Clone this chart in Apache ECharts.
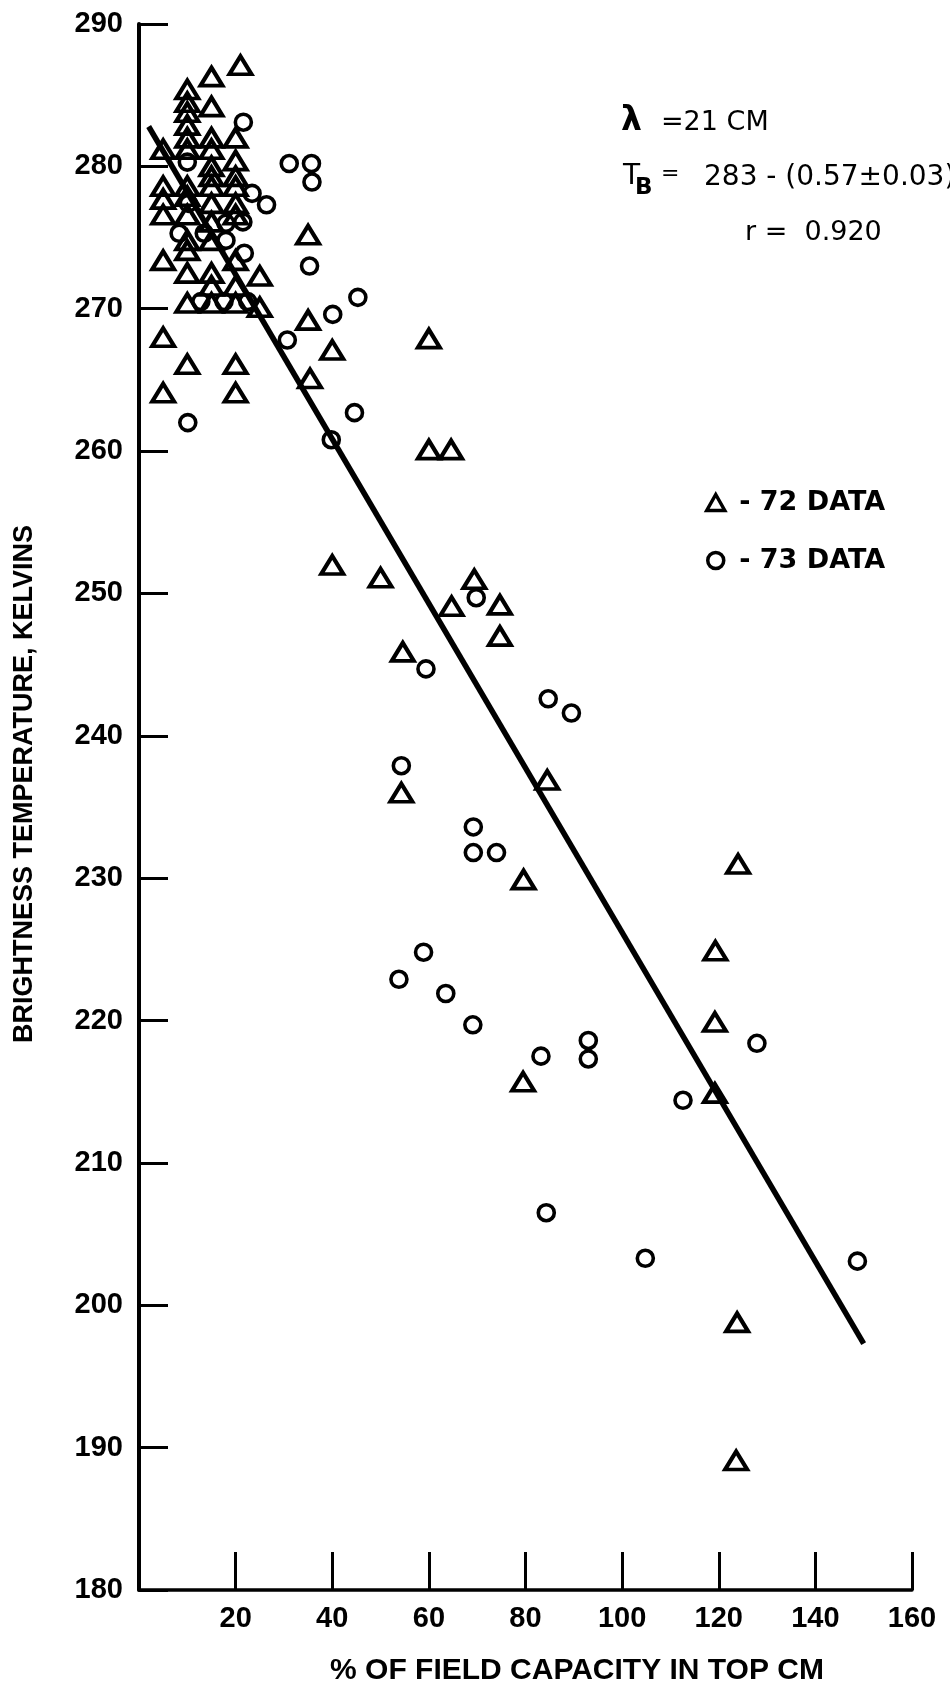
<!DOCTYPE html>
<html>
<head>
<meta charset="utf-8">
<script src="https://cdn.jsdelivr.net/npm/echarts@6/dist/echarts.min.js"></script>
<style>
html,body{margin:0;padding:0;background:#fff;}
#chart{width:950px;height:1690px;}
</style>
</head>
<body>
<div id="chart"></div>
<script>
// ---- data ----
const xTickValues = [20, 40, 60, 80, 100, 120, 140, 160];
const yTickValues = [180, 190, 200, 210, 220, 230, 240, 250, 260, 270, 280, 290];

// Triangles: 1972 data  [% field capacity, brightness temperature K]
const data72 = [
  [5,281.2],[5,278.6],[5,277.7],[5,276.6],[5,273.4],[5,268.0],[5,264.1],
  [10,285.4],[10,284.5],[10,283.8],[10,282.9],[10,282.0],[10,281.2],[10,278.6],[10,277.9],
  [10,276.6],[10,274.8],[10,274.1],[10,272.5],[10,270.4],[10,266.1],
  [15,286.3],[15,284.2],[15,282.0],[15,281.2],[15,280.0],[15,279.3],[15,278.6],[15,277.4],
  [15,276.1],[15,274.8],[15,272.5],[15,271.6],[15,270.4],
  [21,287.1],[20,282.0],[20,280.4],[20,279.3],[20,278.6],[20,277.4],[20,276.6],[20,273.4],
  [20,271.6],[20,270.4],[20,266.1],[20,264.1],
  [25,272.3],[25,270.1],
  [35,275.2],[35,269.2],[40,267.1],[35.4,265.1],[40,252.0],[50,251.1],
  [60,267.9],[60,260.1],[64.6,260.1],[69.4,251.0],[64.7,249.1],[74.7,249.2],[74.7,247.0],
  [54.6,245.9],[54.3,236.0],[84.5,236.9],[79.6,229.9],[79.5,215.7],
  [119.3,224.9],[119.2,219.9],[119.2,214.9],[124,231.0],[123.8,198.8],[123.6,189.1]
];

// Circles: 1973 data
const data73 = [
  [21.6,283.1],[10,280.3],[31.1,280.2],[35.7,280.2],[35.8,278.9],[23.4,278.1],[26.4,277.3],
  [10.2,277.4],[8.3,275.3],[13.5,275.3],[18,276.0],[21.5,276.1],[18,274.8],[21.8,273.9],
  [35.3,273.0],[12.8,270.5],[17.6,270.5],[22.5,270.5],[30.7,267.8],[40.1,269.6],[45.3,270.8],
  [10.1,262.0],[44.6,262.7],[39.8,260.8],[69.8,249.7],[59.4,244.7],[84.7,242.6],[89.5,241.6],
  [54.3,237.9],[69.2,233.6],[69.2,231.8],[74,231.8],[58.9,224.8],[53.8,222.9],[63.5,221.9],
  [69.1,219.7],[83.2,217.5],[93,218.6],[93,217.3],[127.9,218.4],[112.6,214.4],[84.3,206.5],
  [104.8,203.3],[148.7,203.1]
];

// Regression line end points: T_B = 283 - 0.57 x
const fitLine = [[2,282.8],[150,197.3]];

const seriesNames = ['72', '73'];

// ---- chart ----
const chart = echarts.init(document.getElementById('chart'), null, {renderer: 'canvas'});
const labelFont = {color: '#000', fontFamily: '"Liberation Sans", Arial, sans-serif', fontWeight: 'bold', fontSize: 29};
const markerStyle = {color: 'rgba(0,0,0,0)', borderColor: '#000', opacity: 1};

chart.setOption({
  animation: false,
  backgroundColor: '#ffffff',
  textStyle: {fontFamily: '"Liberation Sans", Arial, sans-serif', color: '#000'},
  grid: {left: 139, top: 24, right: 38, bottom: 100, containLabel: false},
  xAxis: {
    type: 'value', min: 0, max: 160, interval: 20,
    axisLine: {show: true, onZero: false, lineStyle: {color: '#000', width: 3.5}},
    axisTick: {show: true, inside: true, length: 38, lineStyle: {color: '#000', width: 3}},
    axisLabel: Object.assign({margin: 14, formatter: v => xTickValues.includes(v) ? String(v) : ''}, labelFont),
    splitLine: {show: false}
  },
  yAxis: {
    type: 'value', min: 180, max: 290, interval: 10,
    axisLine: {show: true, onZero: false, lineStyle: {color: '#000', width: 4}},
    axisTick: {show: true, inside: true, length: 29, lineStyle: {color: '#000', width: 3}},
    axisLabel: Object.assign({margin: 16, formatter: v => yTickValues.includes(v) ? String(v) : ''}, labelFont),
    splitLine: {show: false}
  },
  legend: {
    orient: 'vertical', left: 700, top: 484, itemGap: 31,
    itemWidth: 18, itemHeight: 16,
    formatter: name => ' - ' + name + ' DATA',
    textStyle: {fontFamily: '"DejaVu Sans", sans-serif', fontWeight: 'bold', fontSize: 27, color: '#000'},
    data: [
      {name: seriesNames[0], icon: 'triangle', itemStyle: {color: 'rgba(0,0,0,0)', borderColor: '#000', borderWidth: 3.5, opacity: 1}},
      {name: seriesNames[1], icon: 'circle', itemStyle: {color: 'rgba(0,0,0,0)', borderColor: '#000', borderWidth: 3.5, opacity: 1}}
    ]
  },
  series: [
    {
      name: seriesNames[0], type: 'scatter', data: data72,
      symbol: 'triangle', symbolSize: [22, 18],
      itemStyle: Object.assign({borderWidth: 4}, markerStyle),
      z: 3
    },
    {
      name: seriesNames[1], type: 'scatter', data: data73,
      symbol: 'circle', symbolSize: 16,
      itemStyle: Object.assign({borderWidth: 3.6}, markerStyle),
      z: 3
    },
    {
      name: 'fit', type: 'line', data: fitLine,
      showSymbol: false, symbol: 'none',
      lineStyle: {color: '#000', width: 5.5},
      z: 2
    }
  ],
  graphic: [
    {type: 'text', x: 25, y: 784, rotation: Math.PI / 2,
     style: {text: 'BRIGHTNESS TEMPERATURE, KELVINS', align: 'center', verticalAlign: 'middle',
             font: 'bold 27px "Liberation Sans", Arial, sans-serif', fill: '#000'}},
    {type: 'text', x: 577, y: 1671,
     style: {text: '% OF FIELD CAPACITY IN TOP CM', align: 'center', verticalAlign: 'middle',
             font: 'bold 30px "Liberation Sans", Arial, sans-serif', fill: '#000'}},
    {type: 'text', x: 621, y: 121,
     style: {text: 'λ', align: 'left', verticalAlign: 'middle',
             font: 'bold 33px "DejaVu Sans", sans-serif', fill: '#000'}},
    {type: 'text', x: 661, y: 123,
     style: {text: '=21 CM', align: 'left', verticalAlign: 'middle',
             font: '27px "DejaVu Sans", sans-serif', fill: '#000'}},
    {type: 'text', x: 623, y: 177,
     style: {text: 'T', align: 'left', verticalAlign: 'middle',
             font: '28px "DejaVu Sans", sans-serif', fill: '#000'}},
    {type: 'text', x: 635, y: 188,
     style: {text: 'B', align: 'left', verticalAlign: 'middle',
             font: 'bold 23px "DejaVu Sans", sans-serif', fill: '#000'}},
    {type: 'text', x: 661, y: 174,
     style: {text: '=', align: 'left', verticalAlign: 'middle',
             font: '22px "DejaVu Sans", sans-serif', fill: '#000'}},
    {type: 'text', x: 704, y: 178,
     style: {text: '283 - (0.57±0.03)', align: 'left', verticalAlign: 'middle',
             font: '28px "DejaVu Sans", sans-serif', fill: '#000'}},
    {type: 'text', x: 745, y: 233,
     style: {text: 'r =  0.920', align: 'left', verticalAlign: 'middle',
             font: '27px "DejaVu Sans", sans-serif', fill: '#000'}}
  ]
});
</script>
</body>
</html>
